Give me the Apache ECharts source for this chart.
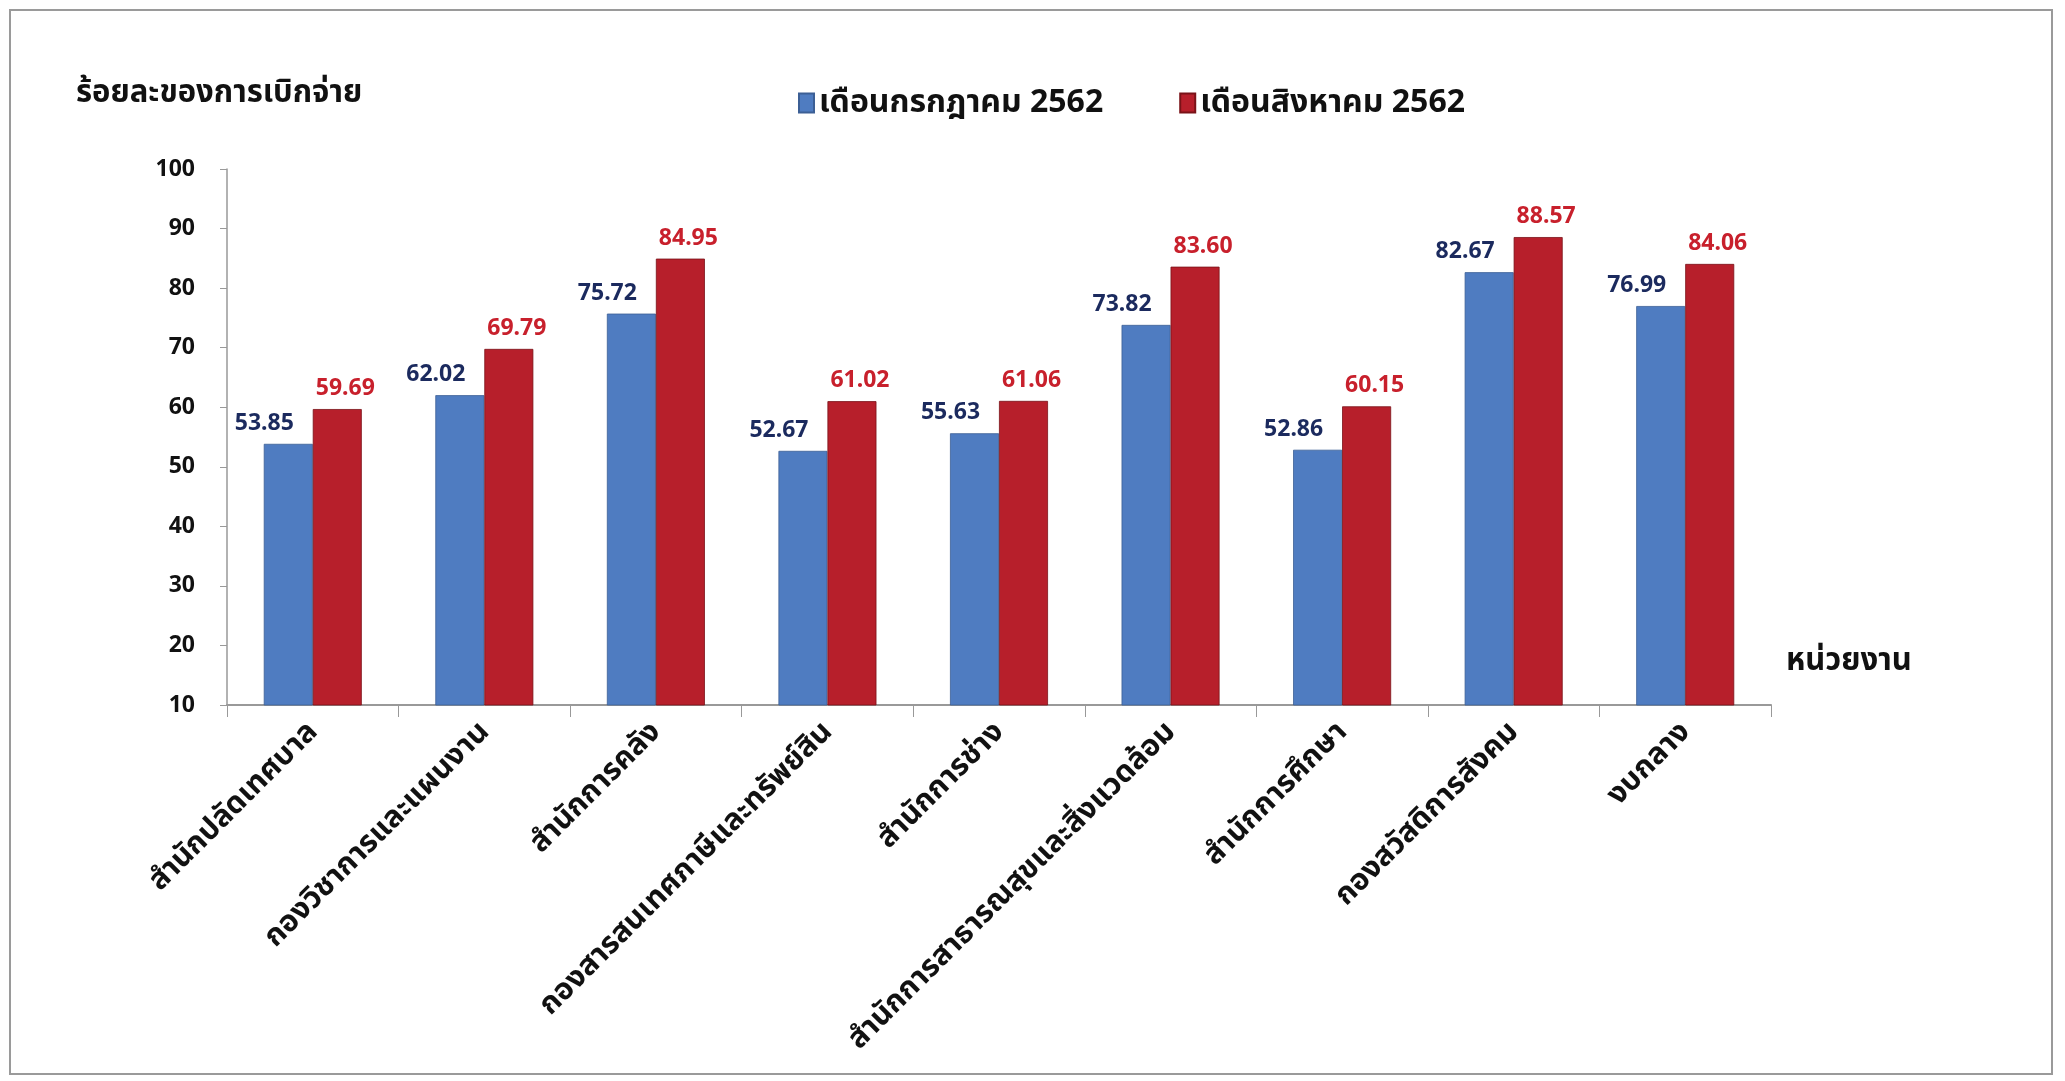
<!DOCTYPE html>
<html><head><meta charset="utf-8">
<script src="https://cdn.jsdelivr.net/npm/echarts@6/dist/echarts.min.js"></script>
<style>html,body{margin:0;padding:0;background:#fff}#c{width:2065px;height:1081px}</style>
</head><body><div id="c"></div>
<script>
const categories = ['สำนักปลัดเทศบาล','กองวิชาการและแผนงาน','สำนักการคลัง','กองสารสนเทศภาษีและทรัพย์สิน','สำนักการช่าง','สำนักการสาธารณสุขและสิ่งแวดล้อม','สำนักการศึกษา','กองสวัสดิการสังคม','งบกลาง'];
const julyValues = [53.85, 62.02, 75.72, 52.67, 55.63, 73.82, 52.86, 82.67, 76.99];
const augValues = [59.69, 69.79, 84.95, 61.02, 61.06, 83.60, 60.15, 88.57, 84.06];
const seriesNames = ['เดือนกรกฎาคม 2562','เดือนสิงหาคม 2562'];
const yTicks = [10, 100, 10]; // min, max, interval
const yTitle = 'ร้อยละของการเบิกจ่าย';
const xTitle = 'หน่วยงาน';

const FONT = '"Noto Sans", "Noto Sans Thai", "DejaVu Sans", sans-serif';
const chart = echarts.init(document.getElementById('c'));
chart.setOption({
  backgroundColor: '#fff',
  textStyle: {fontFamily: FONT},
  graphic: [
    {type:'rect', shape:{x:10,y:10,width:2042,height:1064}, style:{fill:'none', stroke:'#9a9a9a', lineWidth:2}},
    {type:'text', left:76, top:78, style:{text:yTitle, font:'bold 31px ' + FONT, fill:'#111'}},
    {type:'text', left:1786, top:646, style:{text:xTitle, font:'bold 31px ' + FONT, fill:'#111'}}
  ],
  legend: {
    data: seriesNames,
    left: 793, top: 82,
    itemWidth: 15, itemHeight: 19, itemGap: 76,
    icon: 'rect',
    textStyle: {fontSize: 32, fontWeight: 'bold', color: '#111', fontFamily: FONT}
  },
  grid: {left: 227, right: 294, top: 169, bottom: 376, containLabel: false},
  xAxis: {
    type: 'category', data: categories,
    axisLine: {lineStyle: {color: '#999', width: 2}},
    axisTick: {show: true, alignWithLabel: false, length: 12, lineStyle: {color: '#999'}},
    axisLabel: {rotate: 45, interval: 0, fontSize: 30, fontWeight: 'bold', color: '#111', margin: 22, fontFamily: FONT}
  },
  yAxis: {
    type: 'value', min: yTicks[0], max: yTicks[1], interval: yTicks[2],
    splitLine: {show: false},
    axisLine: {show: true, lineStyle: {color: '#999', width: 1.5}},
    axisTick: {show: true, length: 7, lineStyle: {color: '#999'}},
    axisLabel: {fontSize: 23, fontWeight: 'bold', color: '#111', margin: 32, fontFamily: FONT}
  },
  series: [
    {
      name: seriesNames[0], type: 'bar', data: julyValues,
      barWidth: 49, barGap: '0%', barCategoryGap: '42%',
      itemStyle: {color: '#4f7cc1', borderColor: '#3c5f95', borderWidth: 0.8},
      label: {show: true, position: 'top', offset: [-24, -4], formatter: p => p.value.toFixed(2),
        fontSize: 23, fontWeight: 'bold', color: '#1b2a5e', fontFamily: FONT}
    },
    {
      name: seriesNames[1], type: 'bar', data: augValues,
      barWidth: 49, barGap: '0%',
      itemStyle: {color: '#b71f2b', borderColor: '#7a1218', borderWidth: 0.8},
      label: {show: true, position: 'top', offset: [8, -4], formatter: p => p.value.toFixed(2),
        fontSize: 23, fontWeight: 'bold', color: '#c8202c', fontFamily: FONT}
    }
  ]
});
</script></body></html>
